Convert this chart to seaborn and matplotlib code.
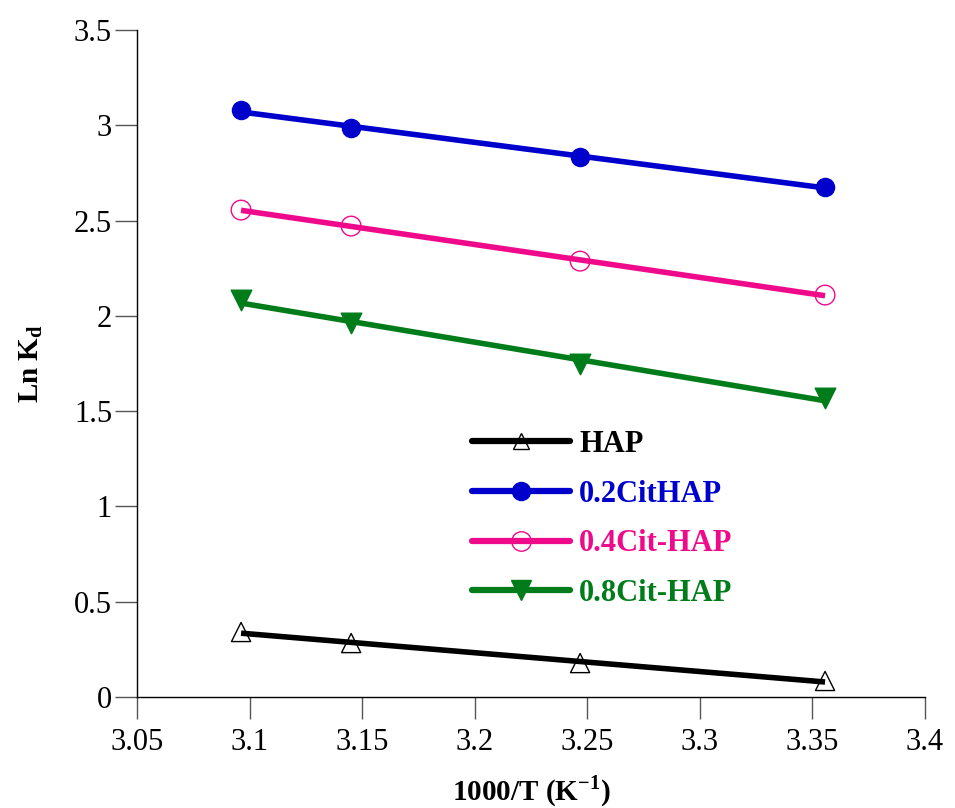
import matplotlib
matplotlib.use("Agg")
import matplotlib.pyplot as plt
import seaborn as sns
import numpy as np
import pandas as pd
from matplotlib.lines import Line2D

sns.set_theme(style="ticks")
plt.rcParams['font.family'] = ['Liberation Serif', 'DejaVu Serif']
plt.rcParams['mathtext.fontset'] = 'custom'
plt.rcParams['mathtext.rm'] = 'Liberation Serif'
plt.rcParams['mathtext.bf'] = 'Liberation Serif:bold'
plt.rcParams['text.color'] = 'black'
plt.rcParams['axes.labelcolor'] = 'black'
plt.rcParams['xtick.labelcolor'] = 'black'
plt.rcParams['ytick.labelcolor'] = 'black'

x_vals = [3.0962, 3.1451, 3.2468, 3.3556]
hap = [0.341, 0.283, 0.178, 0.084]
cit02 = [3.080, 2.985, 2.833, 2.676]
cit04 = [2.555, 2.471, 2.287, 2.109]
cit08 = [2.083, 1.962, 1.747, 1.569]
labels = ["HAP", "0.2CitHAP", "0.4Cit-HAP", "0.8Cit-HAP"]
x_ticks = [3.05, 3.1, 3.15, 3.2, 3.25, 3.3, 3.35, 3.4]
x_ticklabels = ["3.05", "3.1", "3.15", "3.2", "3.25", "3.3", "3.35", "3.4"]
y_ticks = [0, 0.5, 1, 1.5, 2, 2.5, 3, 3.5]
y_ticklabels = ["0", "0.5", "1", "1.5", "2", "2.5", "3", "3.5"]

colors = ["#000000", "#0000CC", "#EE0A8A", "#007D1A"]
styles = [
    dict(marker="^", facecolor="none", edgecolor="#000000", s=190, linewidths=1.0),
    dict(marker="o", facecolor="#0000CC", edgecolor="#0000CC", s=170, linewidths=1.0),
    dict(marker="o", facecolor="none", edgecolor="#EE0A8A", s=200, linewidths=1.0),
    dict(marker="v", facecolor="#007D1A", edgecolor="#007D1A", s=220, linewidths=1.0),
]
legend_markers = [
    dict(marker="^", markerfacecolor="none", markeredgecolor="#000000", markersize=12, markeredgewidth=1.0),
    dict(marker="o", markerfacecolor="#0000CC", markeredgecolor="#0000CC", markersize=13),
    dict(marker="o", markerfacecolor="none", markeredgecolor="#EE0A8A", markersize=14, markeredgewidth=1.0),
    dict(marker="v", markerfacecolor="#007D1A", markeredgecolor="#007D1A", markersize=14),
]

fig = plt.figure(figsize=(9.55, 8.08), dpi=100)
ax = fig.add_axes([0.1435, 0.1374, 0.8251, 0.8255])

series = [hap, cit02, cit04, cit08]
handles = []
for ys, c, st, lm, lab in zip(series, colors, styles, legend_markers, labels):
    df = pd.DataFrame({"x": x_vals, "y": ys})
    sk = dict(st)
    mk = sk.pop("marker")
    sns.regplot(data=df, x="x", y="y", ax=ax, ci=None, truncate=True, marker=mk,
                scatter_kws=dict(sk, zorder=2, alpha=1),
                line_kws=dict(color=c, lw=4.0, zorder=3, solid_capstyle="butt"))
    handles.append(Line2D([0], [0], color=c, lw=4.5, **lm))

ax.set_xlim(3.05, 3.4)
ax.set_ylim(0, 3.5)
ax.set_xticks(x_ticks)
ax.set_xticklabels(x_ticklabels)
ax.set_yticks(y_ticks)
ax.set_yticklabels(y_ticklabels)
ax.tick_params(axis="both", direction="out", length=16, width=1.0, color="#555555",
               labelsize=22)
ax.tick_params(axis="x", pad=6)
ax.tick_params(axis="y", pad=2)
for side in ["top", "right"]:
    ax.spines[side].set_visible(False)
for side in ["left", "bottom"]:
    ax.spines[side].set_color("#000000")
    ax.spines[side].set_linewidth(1.0)

ax.set_xlabel(r"1000/T (K$^{\mathbf{-1}}$)", fontsize=21, fontweight="bold", labelpad=12)
ax.set_ylabel(r"Ln K$_{\mathbf{d}}$", fontsize=21, fontweight="bold", labelpad=21)

leg = ax.legend(handles, labels, loc="upper left", bbox_to_anchor=(0.406, 0.4235),
                frameon=False, borderpad=0, handlelength=3.2, labelspacing=0.68,
                handletextpad=0.3,
                prop=dict(family="Liberation Serif", weight="bold", size=22),
                labelcolor="linecolor")

fig.savefig("out.png", dpi=100)
